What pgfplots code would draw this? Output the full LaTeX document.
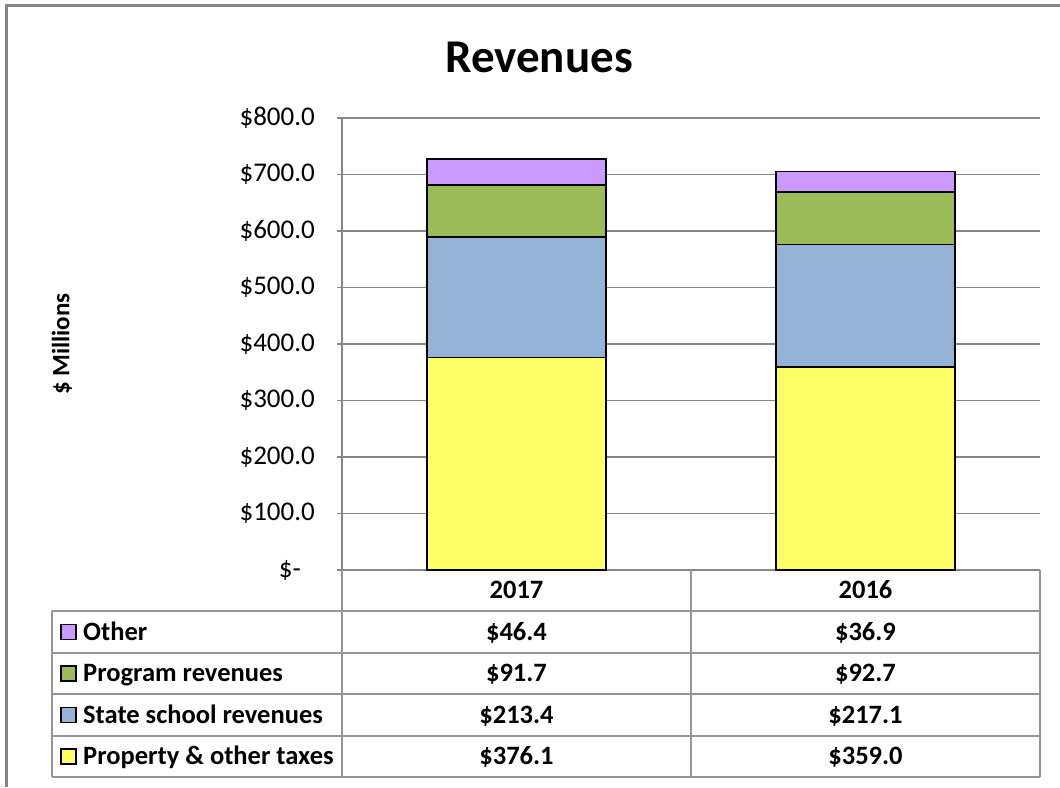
\documentclass[border=0pt]{standalone}
\usepackage{fontspec}
\setmainfont{Carlito}
\usepackage{pgfplots}
\pgfplotsset{compat=1.18}
\definecolor{cyellow}{RGB}{255,255,102}
\definecolor{cblue}{RGB}{149,179,215}
\definecolor{cgreen}{RGB}{155,187,89}
\definecolor{cpurple}{RGB}{204,153,255}
\definecolor{lgray}{RGB}{134,134,134}
\definecolor{tgray}{RGB}{150,150,150}

\begin{document}
\begin{tikzpicture}[x=1pt,y=1pt]
\useasboundingbox (0,0) rectangle (1060,787);
% chart frame (cut at right and bottom)
\draw[lgray, line width=3pt] (6,0) -- (6,781) -- (1060,781);
\node[font=\fontsize{47}{56}\selectfont\bfseries] at (539,730) {Revenues};
\node[font=\fontsize{25}{30}\selectfont\bfseries, rotate=90] at (62,443) {\$ Millions};

\begin{axis}[at={(342pt,217pt)}, anchor=south west,
  width=698pt, height=452pt, scale only axis,
  xmin=-0.5, xmax=1.5, ymin=0, ymax=800,
  ybar stacked, bar width=179pt,
  axis x line*=bottom, axis y line*=left,
  axis line style={lgray, line width=2pt, -},
  xtick=\empty,
  ytick={0,100,...,800},
  yticklabels={\$-\rule{14pt}{0pt},\$100.0,\$200.0,\$300.0,\$400.0,\$500.0,\$600.0,\$700.0,\$800.0},
  yticklabel style={font=\fontsize{27}{32}\selectfont, inner sep=0pt, xshift=-22pt},
  ymajorgrids, grid style={lgray, line width=1.5pt},
  tick style={lgray, line width=1.5pt}, major tick length=5pt, tick align=outside,
  clip=false]
\addplot[fill=cyellow, draw=black, line width=1.5pt] coordinates {(0,376.1) (1,359.0)};
\addplot[fill=cblue, draw=black, line width=1.5pt] coordinates {(0,213.4) (1,217.1)};
\addplot[fill=cgreen, draw=black, line width=1.5pt] coordinates {(0,91.7) (1,92.7)};
\addplot[fill=cpurple, draw=black, line width=1.5pt] coordinates {(0,46.4) (1,36.9)};
\end{axis}

% data table below the plot
\begin{scope}[tgray, line width=2pt]
\foreach \y in {176,134,93,51,10} \draw (52,\y) -- (1040,\y);
\draw (52,10) -- (52,176);
\foreach \x in {342,691,1040} \draw (\x,10) -- (\x,217);
\end{scope}
\begin{scope}[every node/.style={font=\fontsize{26.5}{31}\selectfont\bfseries, text=black,
    inner sep=0pt, anchor=base}]
\node at (516.5,188) {2017};
\node at (865.5,188) {2016};
\node at (516.5,146.5) {\$46.4};
\node at (865.5,146.5) {\$36.9};
\node at (516.5,105) {\$91.7};
\node at (865.5,105) {\$92.7};
\node at (516.5,63.5) {\$213.4};
\node at (865.5,63.5) {\$217.1};
\node at (516.5,22) {\$376.1};
\node at (865.5,22) {\$359.0};
\node[anchor=base west] at (83,146.5) {Other};
\node[anchor=base west] at (83,105) {Program revenues};
\node[anchor=base west] at (83,63.5) {State school revenues};
\node[anchor=base west] at (83,22) {Property \& other taxes};
\end{scope}
\foreach \y/\c in {155/cpurple,113.5/cgreen,72/cblue,30.5/cyellow}
  \draw[black, line width=1.2pt, fill=\c] (61,\y-7.5) rectangle (76,\y+7.5);
\end{tikzpicture}
\end{document}
